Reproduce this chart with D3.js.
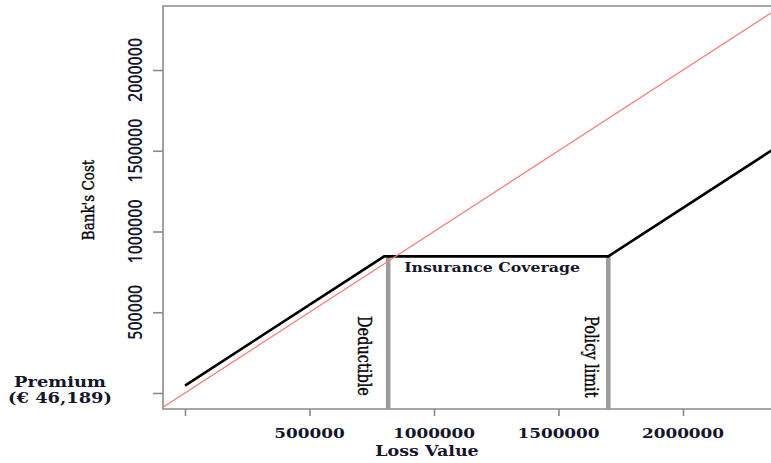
<!DOCTYPE html>
<html>
<head>
<meta charset="utf-8">
<script src="https://cdn.jsdelivr.net/npm/d3@7"></script>
<style>
  html, body { margin: 0; padding: 0; background: #fff; }
  svg { display: block; }
</style>
</head>
<body>
<svg id="chart" width="771" height="463"></svg>
<script>
// ---------------- data ----------------
const xTickValues = [0, 500000, 1000000, 1500000, 2000000];
const xTickLabels = ["", "500000", "1000000", "1500000", "2000000"];
const yTickValues = [0, 500000, 1000000, 1500000, 2000000];
const yTickLabels = ["", "500000", "1000000", "1500000", "2000000"];

// bank's cost (insured) as a function of loss value
const lossPoints = [0, 800000, 1700000, 2500000];
const bankCost   = [46189, 846189, 846189, 1646189];

// uninsured reference line (cost = loss)
const refLoss = [-300000, 2800000];
const refCost = [-300000, 2800000];

// vertical markers
const markerLabels = ["Deductible", "Policy limit"];
const markerLoss   = [816000, 1700000];
const markerTop    = [846189, 846189];

const premiumLabel = ["Premium", "(€ 46,189)"];
const coverageLabel = "Insurance Coverage";
const xTitle = "Loss Value";
const yTitle = "Bank's Cost";

// ---------------- layout ----------------
const SX = 1.25;               // horizontal stretch of the original picture
const plot = { left: 163, right: 800, top: 6, bottom: 409 };
const svg = d3.select("#chart");

const x = d3.scaleLinear().domain([0, 2000000]).range([185, 683]);
const y = d3.scaleLinear().domain([0, 2000000]).range([393, 70]);

const frameColor = "#8a8a8a";
const textColor = "#15152a";

svg.append("defs").append("clipPath").attr("id", "clip")
  .append("rect")
  .attr("x", plot.left).attr("y", plot.top)
  .attr("width", plot.right - plot.left).attr("height", plot.bottom - plot.top);

// frame (left, top, bottom; right side is outside the picture)
svg.append("path")
  .attr("d", `M${plot.right},${plot.top}H${plot.left}V${plot.bottom}H${plot.right}`)
  .attr("fill", "none").attr("stroke", frameColor).attr("stroke-width", 1.6);

// axes
const xAxis = svg.append("g")
  .attr("transform", `translate(0,${plot.bottom})`)
  .call(d3.axisBottom(x).tickValues(xTickValues).tickSize(7).tickFormat(() => ""));
xAxis.select(".domain").remove();
xAxis.selectAll(".tick line").attr("stroke", frameColor).attr("stroke-width", 1.6);

const yAxis = svg.append("g")
  .attr("transform", `translate(${plot.left},0)`)
  .call(d3.axisLeft(y).tickValues(yTickValues).tickSize(10).tickFormat(() => ""));
yAxis.select(".domain").remove();
yAxis.selectAll(".tick line").attr("stroke", frameColor).attr("stroke-width", 1.6);

// x tick labels
svg.append("g").selectAll("text")
  .data(xTickValues.map((v, i) => ({ v, t: xTickLabels[i] })))
  .join("text")
  .attr("transform", d => `translate(${x(d.v)},438) scale(${SX},1)`)
  .attr("text-anchor", "middle")
  .attr("font-family", "DejaVu Serif").attr("font-weight", "bold")
  .attr("font-size", 13.5).attr("fill", textColor)
  .text(d => d.t);

// y tick labels (rotated)
svg.append("g").selectAll("text")
  .data(yTickValues.map((v, i) => ({ v, t: yTickLabels[i] })))
  .join("text")
  .attr("transform", d => `translate(142,${y(d.v)}) scale(${SX},1) rotate(-90)`)
  .attr("text-anchor", "middle")
  .attr("font-family", "Open Sans").attr("font-weight", 600)
  .attr("font-size", 16).attr("fill", textColor)
  .text(d => d.t);

// axis titles
svg.append("text")
  .attr("transform", `translate(427,456) scale(${SX},1)`)
  .attr("text-anchor", "middle")
  .attr("font-family", "DejaVu Serif").attr("font-weight", "bold")
  .attr("font-size", 14).attr("fill", textColor)
  .text(xTitle);

svg.append("text")
  .attr("transform", `translate(94,200) scale(${SX},1) rotate(-90)`)
  .attr("text-anchor", "middle")
  .attr("font-family", "DejaVu Serif")
  .attr("font-size", 13.5).attr("fill", "#000")
  .attr("stroke", "#000").attr("stroke-width", 0.3)
  .text(yTitle);

// premium label
svg.append("g").selectAll("text")
  .data(premiumLabel)
  .join("text")
  .attr("transform", (d, i) => `translate(60,${387 + i * 15.5}) scale(${SX},1)`)
  .attr("text-anchor", "middle")
  .attr("font-family", "DejaVu Serif").attr("font-weight", "bold")
  .attr("font-size", 14.3).attr("fill", textColor)
  .text(d => d);

// plot content
const g = svg.append("g").attr("clip-path", "url(#clip)");

// vertical marker bars
g.selectAll("line.marker")
  .data(markerLoss.map((v, i) => ({ v, top: markerTop[i] })))
  .join("line")
  .attr("class", "marker")
  .attr("x1", d => x(d.v)).attr("x2", d => x(d.v))
  .attr("y1", d => y(d.top)).attr("y2", plot.bottom)
  .attr("stroke", "#9c9c9c").attr("stroke-width", 4.5);

// insured cost line
const line = d3.line().x(d => x(d[0])).y(d => y(d[1]));
g.append("path")
  .datum(lossPoints.map((v, i) => [v, bankCost[i]]))
  .attr("d", line)
  .attr("fill", "none").attr("stroke", "#000").attr("stroke-width", 2.6)
  .attr("stroke-linejoin", "miter");

// reference line cost = loss
g.append("path")
  .datum(refLoss.map((v, i) => [v, refCost[i]]))
  .attr("d", line)
  .attr("fill", "none").attr("stroke", "#f47c7c").attr("stroke-width", 1.2);

// marker labels (rotated, reading top to bottom)
const markerLabelOffset = [-30, -23];
svg.append("g").selectAll("text")
  .data(markerLabels.map((t, i) => ({ t, v: markerLoss[i], dx: markerLabelOffset[i] })))
  .join("text")
  .attr("transform", d => `translate(${x(d.v) + d.dx},316) scale(${SX},1) rotate(90)`)
  .attr("text-anchor", "start")
  .attr("font-family", "DejaVu Serif")
  .attr("font-size", 14.5).attr("fill", "#000")
  .attr("stroke", "#000").attr("stroke-width", 0.3)
  .text(d => d.t);

// insurance coverage label
svg.append("text")
  .attr("transform", `translate(${x(markerLoss[0]) + 16},272) scale(${SX},1)`)
  .attr("text-anchor", "start")
  .attr("font-family", "DejaVu Serif").attr("font-weight", "bold")
  .attr("font-size", 12.6).attr("fill", textColor)
  .text(coverageLabel);
</script>
</body>
</html>
